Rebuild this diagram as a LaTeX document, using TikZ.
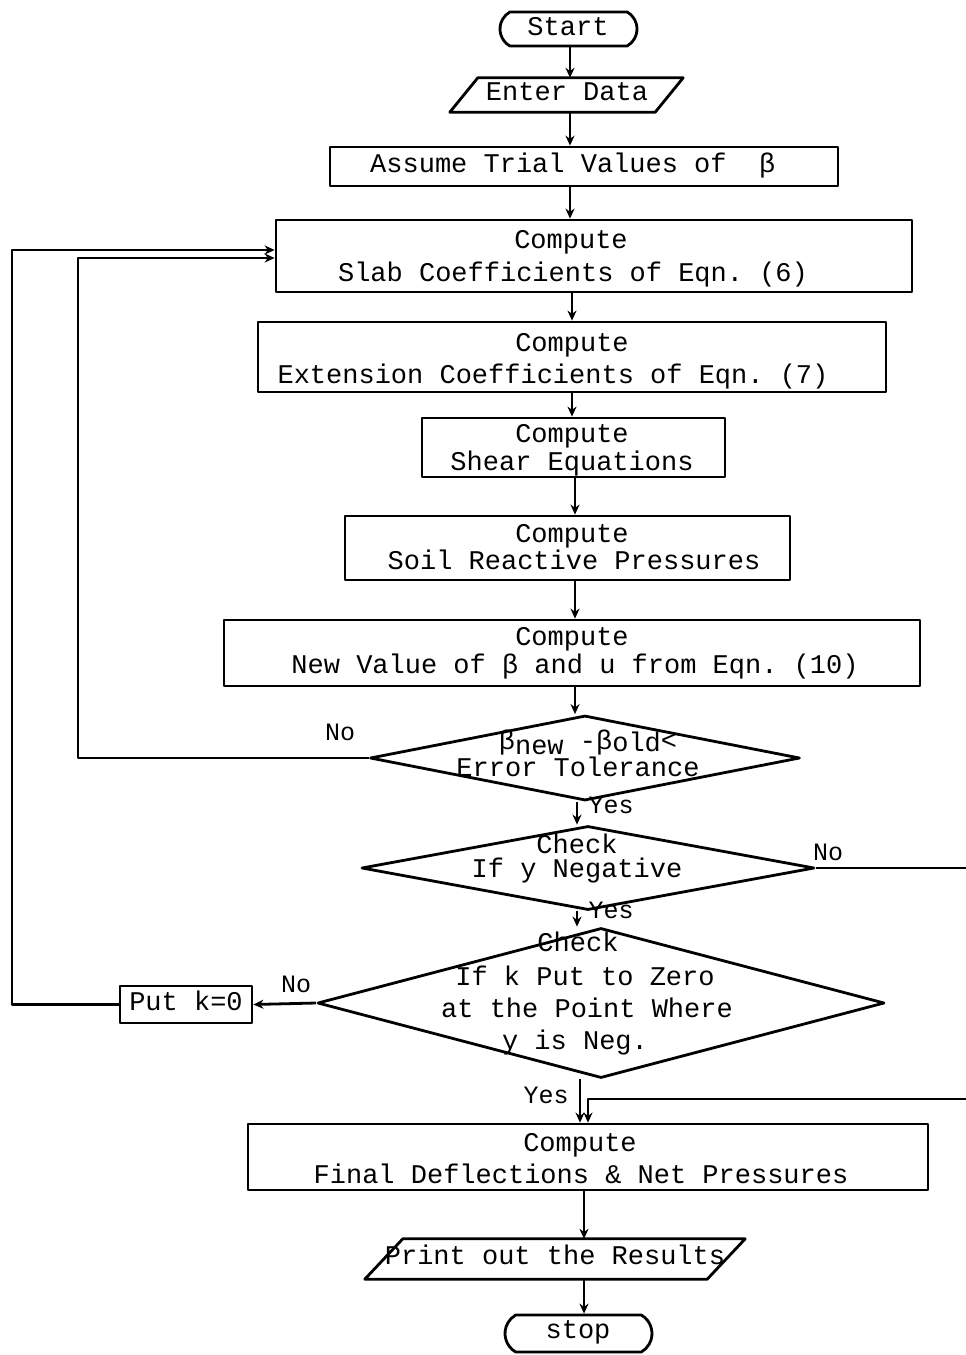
\documentclass[tikz,border=0pt]{standalone}
\usepackage{fontspec}
\setmonofont{Liberation Mono}
\usetikzlibrary{shapes.geometric,shapes.misc,arrows.meta,calc}
\begin{document}
\begin{tikzpicture}[x=1pt,y=-1pt,
  ln/.style={line width=2.8pt, line join=round},
  arr/.style={ln, -{Stealth[length=10pt,width=9pt]}},
  boxs/.style={draw, ln, rectangle, inner sep=0pt},
  term/.style={draw, ln, rounded rectangle, rounded rectangle arc length=120, inner sep=0pt},
  parab/.style={rectangle, inner sep=0pt},
  diam/.style={draw, ln, diamond, inner sep=0pt},
  tx/.style={font=\fontsize{27}{33}\selectfont\ttfamily, inner sep=0pt, text height=15pt, text depth=4pt},
  lbl/.style={font=\fontsize{25}{30}\selectfont\ttfamily, inner sep=0pt, text height=15pt, text depth=4pt}
]
\useasboundingbox[fill=white] (0,0) rectangle (966,1355);

% ---------- shapes ----------
\node[term, minimum width=137pt, minimum height=34pt] (start) at (568.5,29) {};
\node[parab, minimum width=205pt, minimum height=34pt] (enter) at (566.5,95) {};
\draw[ln] ($(enter.south west)+(-14,0)$) -- ($(enter.north west)+(14,0)$) -- ($(enter.north east)+(14,0)$) -- ($(enter.south east)+(-14,0)$) -- cycle;
\node[boxs, minimum width=508pt, minimum height=39pt] (b3) at (584,166.5) {};
\node[boxs, minimum width=636pt, minimum height=72pt] (b4) at (594,256) {};
\node[boxs, minimum width=628pt, minimum height=70pt] (b5) at (572,357) {};
\node[boxs, minimum width=303pt, minimum height=59pt] (b6) at (573.5,447.5) {};
\node[boxs, minimum width=445pt, minimum height=64pt] (b7) at (567.5,548) {};
\node[boxs, minimum width=696pt, minimum height=66pt] (b8) at (572,653) {};
\node[diam, minimum width=430pt, minimum height=85pt] (d1) at (585,758) {};
\node[diam, minimum width=453pt, minimum height=84pt] (d2) at (588,868) {};
\node[diam, minimum width=567pt, minimum height=150pt] (d3) at (601,1003) {};
\node[boxs, minimum width=132pt, minimum height=37pt] (put) at (186,1004.5) {};
\node[boxs, minimum width=680pt, minimum height=66pt] (b9) at (588,1157) {};
\node[parab, minimum width=342pt, minimum height=40pt] (print) at (555,1259) {};
\draw[ln] ($(print.south west)+(-19,0)$) -- ($(print.north west)+(19,0)$) -- ($(print.north east)+(19,0)$) -- ($(print.south east)+(-19,0)$) -- cycle;
\node[term, minimum width=147pt, minimum height=37pt] (stop) at (578.5,1333.5) {};

% ---------- texts ----------
\node[tx] (tstart) at (568,30) {Start};
\node[tx] (tenter) at (567,95) {Enter Data};
\node[tx, anchor=west] (t3) at (370,167) {Assume Trial Values of~~β};
\node[tx] (t4a) at (571,243) {Compute};
\node[tx] (t4b) at (573,276) {Slab Coefficients of Eqn. (6)};
\node[tx] (t5a) at (572,346) {Compute};
\node[tx] (t5b) at (553,378) {Extension Coefficients of Eqn. (7)};
\node[tx] (t6a) at (572,437) {Compute};
\node[tx] (t6b) at (572,465) {Shear Equations};
\node[tx] (t7a) at (572,537) {Compute};
\node[tx] (t7b) at (574,564) {Soil Reactive Pressures};
\node[tx] (t8a) at (572,640) {Compute};
\node[tx] (t8b) at (575,668) {New Value of β and u from Eqn. (10)};
\node[tx] (td1a) at (588,744) {β\raisebox{-5pt}[0pt][0pt]{new} -β\raisebox{-2pt}[0pt][0pt]{old}<};
\node[tx] (td1b) at (578,771) {Error Tolerance};
\node[tx] (td2a) at (577,848) {Check};
\node[tx] (td2b) at (577,872) {If y Negative};
\node[tx] (td3a) at (578,946) {Check};
\node[tx] (td3b) at (585,980) {If k Put to Zero};
\node[tx] (td3c) at (587,1012) {at the Point Where};
\node[tx] (td3d) at (575,1044) {y is Neg.};
\node[tx] (tput) at (186,1005) {Put k=0};
\node[tx] (t9a) at (580,1146) {Compute};
\node[tx] (t9b) at (581,1178) {Final Deflections \& Net Pressures};
\node[tx] (tprint) at (555,1259) {Print out the Results};
\node[tx] (tstop) at (578,1333) {stop};

% ---------- labels ----------
\node[lbl] (no1) at (340,735) {No};
\node[lbl] (yes1) at (611,808) {Yes};
\node[lbl] (no2) at (828,855) {No};
\node[lbl] (yes2) at (611,913) {Yes};
\node[lbl] (no3) at (296,987) {No};
\node[lbl] (yes3) at (546,1098) {Yes};

% ---------- connectors ----------
\coordinate (sA) at (570,0);
\coordinate (sB) at (572,0);
\coordinate (sC) at (575,0);
\coordinate (sD) at (577,0);
\coordinate (sE) at (580,0);
\coordinate (sF) at (584,0);
\draw[arr] (sA |- start.south) -- (sA |- enter.north);
\draw[arr] (sA |- enter.south) -- (sA |- b3.north);
\draw[arr] (sA |- b3.south) -- (sA |- b4.north);
\draw[arr] (sB |- b4.south) -- (sB |- b5.north);
\draw[arr] (sB |- b5.south) -- (sB |- b6.north);
\draw[arr] (sC |- b6.south) -- (sC |- b7.north);
\draw[arr] (sC |- b7.south) -- (sC |- b8.north);
\draw[arr] (sC |- b8.south) -- (sC |- d1.north);
\draw[arr] (sD |- d1.south) -- (sD |- d2.north);
\draw[arr] (sD |- d2.south) -- (sD |- d3.north);
\draw[arr] (sE |- d3.south) -- (sE |- b9.north);
\draw[arr] (sF |- b9.south) -- (sF |- print.north);
\draw[arr] (sF |- print.south) -- (sF |- stop.north);

% loops back to slab coefficients
\coordinate (inL) at (78,0);
\coordinate (outL) at (12,0);
\draw[arr] (d1.west) -- (inL |- d1.west) -- ($(inL |- b4.west)+(0,2)$) -- ($(b4.west)+(0,2)$);
\draw[arr] (d3.west) -- (put.east);
\draw[arr] (put.west) -- (outL |- put.west) -- ($(outL |- b4.west)+(0,-6)$) -- ($(b4.west)+(0,-6)$);

% right-hand bypass
\coordinate (rR) at (972,0);
\coordinate (jn) at (588,1099);
\draw[arr] (d2.east) -- (rR |- d2.east) -- (rR |- jn) -- (jn) -- (jn |- b9.north);
\end{tikzpicture}
\end{document}
